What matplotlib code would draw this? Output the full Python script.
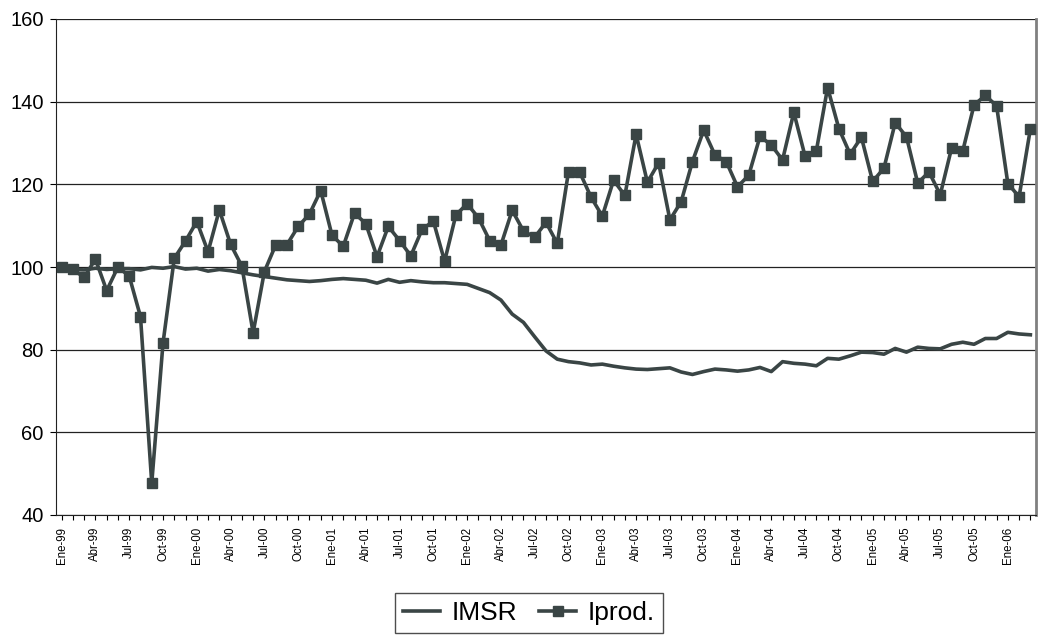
import numpy as np
import matplotlib
matplotlib.use("Agg")
import matplotlib.pyplot as plt

plt.rcParams['font.family'] = ['Liberation Sans', 'DejaVu Sans']

# monthly series, Ene-99 .. Mar-06
meses = ['Ene', 'Feb', 'Mar', 'Abr', 'May', 'Jun', 'Jul', 'Ago', 'Sep', 'Oct', 'Nov', 'Dic']
anios = ['99', '00', '01', '02', '03', '04', '05', '06']
n_meses = 87

imsr = [100.0, 99.4, 99.3, 99.7, 99.4, 99.6, 99.6, 99.3, 99.9, 99.7,
        100.1, 99.5, 99.7, 99.0, 99.4, 99.1, 98.6, 98.1, 97.7, 97.3,
        96.9, 96.7, 96.5, 96.7, 97.0, 97.2, 97.0, 96.8, 96.1, 97.0,
        96.3, 96.7, 96.4, 96.2, 96.2, 96.0, 95.8, 94.8, 93.8, 92.0,
        88.6, 86.6, 83.1, 79.7, 77.7, 77.1, 76.8, 76.3, 76.5, 76.0,
        75.6, 75.3, 75.2, 75.4, 75.6, 74.6, 74.0, 74.7, 75.3, 75.1,
        74.8, 75.1, 75.7, 74.7, 77.1, 76.7, 76.5, 76.1, 77.9, 77.7,
        78.5, 79.4, 79.3, 78.9, 80.3, 79.4, 80.6, 80.3, 80.2, 81.3,
        81.8, 81.3, 82.7, 82.7, 84.2, 83.8, 83.6]

iprod = [100.0, 99.4, 97.5, 101.9, 94.3, 100.0, 97.8, 88.0, 47.7, 81.6,
         102.1, 106.3, 111.0, 103.7, 113.8, 105.5, 100.2, 84.1, 98.9, 105.3,
         105.4, 109.8, 112.8, 118.5, 107.7, 105.0, 113.0, 110.5, 102.5, 109.8,
         106.4, 102.7, 109.1, 111.1, 101.4, 112.6, 115.3, 111.9, 106.4, 105.3,
         113.7, 108.7, 107.2, 110.8, 105.7, 123.1, 122.9, 116.9, 112.3, 121.0,
         117.3, 132.1, 120.5, 125.2, 111.4, 115.8, 125.5, 133.1, 127.1, 125.5,
         119.4, 122.2, 131.6, 129.5, 125.9, 137.4, 126.8, 128.1, 143.4, 133.5,
         127.3, 131.4, 120.7, 123.9, 134.9, 131.5, 120.3, 123.0, 117.5, 128.7,
         128.1, 139.2, 141.5, 139.0, 120.2, 117.0, 133.4]

etiquetas = [m + '-' + a for a in anios for m in meses][:n_meses]
x = np.arange(n_meses)

color = '#3a4545'

fig = plt.figure(figsize=(10.43, 6.35), dpi=100)
ax = fig.add_axes([56 / 1043, 1 - 515 / 635, 980 / 1043, 496 / 635])

ax.plot(x, imsr, color=color, lw=2.6, label='IMSR', zorder=3)
ax.plot(x, iprod, color=color, lw=2.6, marker='s', markersize=6.5,
        label='Iprod.', zorder=4)

ax.set_xlim(-0.5, n_meses - 0.5)
ax.set_ylim(40, 160)
ax.set_yticks(np.arange(40, 161, 20))
ax.yaxis.grid(True, color='#222222', lw=0.9)
ax.set_axisbelow(True)

ax.set_xticks(x[::3])
ax.set_xticklabels(etiquetas[::3], rotation=90, fontsize=8.3)
ax.set_xticks(x, minor=True)
ax.tick_params(axis='x', which='both', length=3.5, width=0.8, pad=5)
ax.tick_params(axis='y', length=4, width=0.8, pad=5, labelsize=14.5)

ax.spines['top'].set_visible(False)
ax.spines['right'].set_color('#808080')
ax.spines['right'].set_linewidth(2)
ax.spines['left'].set_color('#222222')
ax.spines['bottom'].set_color('#222222')

leg = fig.legend(loc='upper center', bbox_to_anchor=(529 / 1043, 1 - 593 / 635),
                 ncol=2, fontsize=19, frameon=True, fancybox=False,
                 edgecolor='#222222', handlelength=1.4, columnspacing=0.85,
                 handletextpad=0.42, borderpad=0.3, borderaxespad=0)
leg.get_frame().set_linewidth(1)

fig.savefig('out.png', dpi=100)
